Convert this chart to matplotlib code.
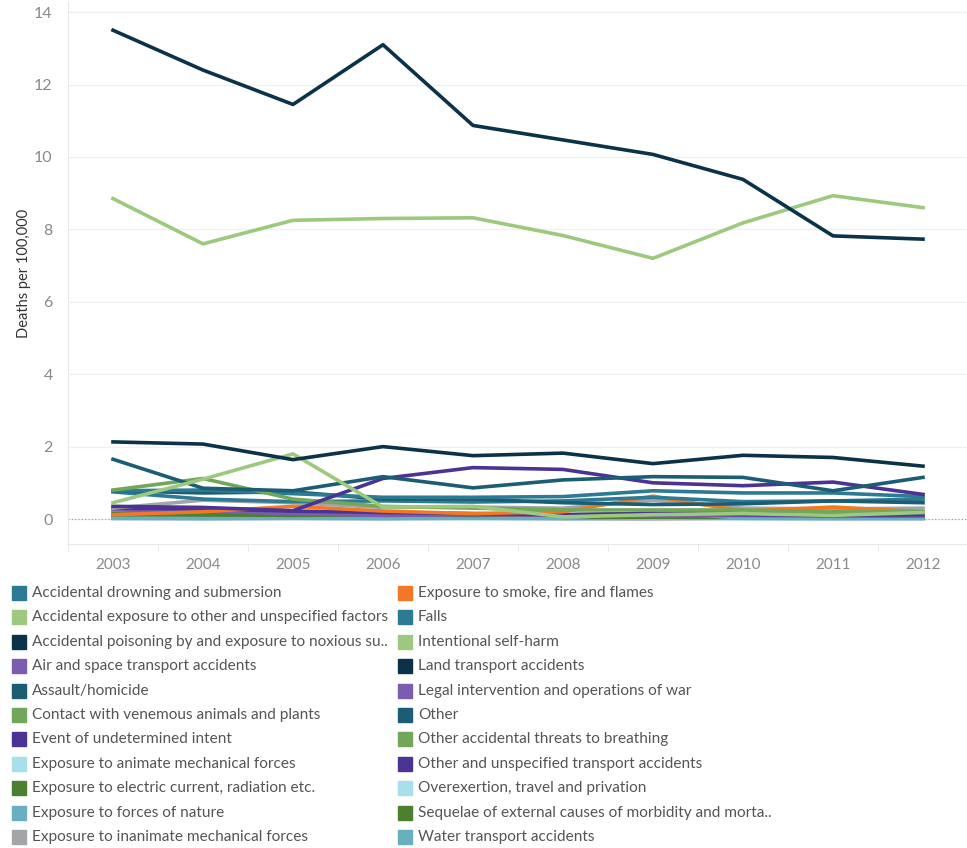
import matplotlib.pyplot as plt
from matplotlib.patches import Rectangle
from matplotlib.ticker import MultipleLocator

plt.rcParams['font.family'] = ['Lato', 'DejaVu Sans']

years = [2003, 2004, 2005, 2006, 2007, 2008, 2009, 2010, 2011, 2012]

categories = [
    "Accidental drowning and submersion",
    "Accidental exposure to other and unspecified factors",
    "Accidental poisoning by and exposure to noxious su..",
    "Air and space transport accidents",
    "Assault/homicide",
    "Contact with venemous animals and plants",
    "Event of undetermined intent",
    "Exposure to animate mechanical forces",
    "Exposure to electric current, radiation etc.",
    "Exposure to forces of nature",
    "Exposure to inanimate mechanical forces",
    "Exposure to smoke, fire and flames",
    "Falls",
    "Intentional self-harm",
    "Land transport accidents",
    "Legal intervention and operations of war",
    "Other",
    "Other accidental threats to breathing",
    "Other and unspecified transport accidents",
    "Overexertion, travel and privation",
    "Sequelae of external causes of morbidity and morta..",
    "Water transport accidents",
]

colors = [
    "#2c7a93", "#9cc97e", "#0b3249", "#7a5db0", "#1b5d74", "#72a75a",
    "#4b3393", "#a7dfea", "#4c7f2e", "#68afc0", "#a3a5a8", "#f47725",
    "#2c7a93", "#9cc97e", "#0b3249", "#7a5db0", "#1b5d74", "#72a75a",
    "#4b3393", "#a7dfea", "#4c7f2e", "#68afc0",
]

drowning = [0.75, 0.55, 0.48, 0.50, 0.47, 0.50, 0.60, 0.48, 0.50, 0.55]
exposure_other = [0.45, 1.10, 1.80, 0.33, 0.35, 0.06, 0.12, 0.15, 0.10, 0.18]
poisoning = [2.13, 2.07, 1.64, 2.00, 1.75, 1.82, 1.53, 1.76, 1.70, 1.46]
air_space = [0.25, 0.22, 0.15, 0.10, 0.12, 0.10, 0.08, 0.10, 0.08, 0.08]
assault = [0.78, 0.72, 0.75, 0.55, 0.55, 0.45, 0.40, 0.42, 0.50, 0.45]
venomous = [0.03, 0.02, 0.03, 0.02, 0.03, 0.02, 0.03, 0.02, 0.02, 0.03]
undetermined = [0.35, 0.32, 0.23, 1.12, 1.42, 1.37, 1.00, 0.92, 1.02, 0.68]
animate = [0.05, 0.04, 0.05, 0.04, 0.04, 0.05, 0.04, 0.03, 0.04, 0.04]
electric = [0.08, 0.06, 0.05, 0.05, 0.06, 0.05, 0.05, 0.04, 0.05, 0.05]
forces_nature = [0.02, 0.02, 0.02, 0.02, 0.03, 0.02, 0.20, 0.02, 0.02, 0.02]
inanimate = [0.30, 0.52, 0.45, 0.32, 0.33, 0.30, 0.52, 0.30, 0.28, 0.30]
smoke = [0.12, 0.20, 0.35, 0.22, 0.15, 0.20, 0.63, 0.22, 0.33, 0.20]
falls = [0.78, 0.80, 0.70, 0.60, 0.60, 0.62, 0.78, 0.72, 0.72, 0.62]
self_harm = [8.85, 7.60, 8.25, 8.30, 8.32, 7.83, 7.20, 8.18, 8.93, 8.60]
land = [13.50, 12.40, 11.45, 13.10, 10.87, 10.47, 10.07, 9.38, 7.82, 7.73]
legal = [0.02, 0.01, 0.02, 0.01, 0.02, 0.01, 0.01, 0.02, 0.01, 0.01]
other = [1.65, 0.85, 0.78, 1.17, 0.86, 1.08, 1.17, 1.15, 0.78, 1.15]
breathing = [0.80, 1.12, 0.55, 0.35, 0.30, 0.25, 0.25, 0.25, 0.20, 0.20]
other_transport = [0.30, 0.28, 0.22, 0.18, 0.15, 0.12, 0.15, 0.12, 0.10, 0.12]
overexertion = [0.01, 0.01, 0.02, 0.01, 0.01, 0.01, 0.02, 0.01, 0.01, 0.01]
sequelae = [0.15, 0.12, 0.10, 0.12, 0.10, 0.12, 0.15, 0.22, 0.12, 0.15]
water = [0.06, 0.05, 0.04, 0.05, 0.04, 0.05, 0.05, 0.04, 0.05, 0.04]

series = [drowning, exposure_other, poisoning, air_space, assault, venomous,
          undetermined, animate, electric, forces_nature, inanimate, smoke,
          falls, self_harm, land, legal, other, breathing, other_transport,
          overexertion, sequelae, water]

W, H = 967, 848
fig = plt.figure(figsize=(W / 100, H / 100), dpi=100)
ax = fig.add_axes([68 / W, 1 - 544 / H, 900 / W, 542 / H])

# draw the small ones first so the big lines stay on top
order = sorted(range(len(series)), key=lambda i: max(series[i]))
for i in order:
    ax.plot(years, series[i], color=colors[i], lw=2.6, solid_joinstyle='round', zorder=3)

ax.axhline(0, color='#999999', lw=0.8, ls=(0, (1, 2)), zorder=1)

ax.set_xlim(2002.5, 2012.5)
ax.set_ylim(-0.69, 14.28)
ax.yaxis.set_major_locator(MultipleLocator(2))
ax.set_xticks(years)
ax.set_xticks([y - 0.5 for y in years] + [2012.5], minor=True)
ax.grid(axis='y', color='#f0f0f0', lw=1)
ax.set_axisbelow(True)

for s in ['top', 'right']:
    ax.spines[s].set_visible(False)
ax.spines['left'].set_color('#e8e8e8')
ax.spines['bottom'].set_color('#e8e8e8')

ax.tick_params(axis='y', length=0, pad=11, labelsize=11.5, labelcolor='#8a8a8a')
ax.tick_params(axis='x', which='major', length=0, pad=10, labelsize=11, labelcolor='#8a8a8a')
ax.tick_params(axis='x', which='minor', length=6, color='#e8e8e8')
ax.set_ylabel('Deaths per 100,000', fontsize=10.5, color='#333333', labelpad=2)

# legend, two columns of eleven
row0, dy = 593, 24.4
for k, (name, c) in enumerate(zip(categories, colors)):
    col, row = divmod(k, 11)
    sx = 12 if col == 0 else 398
    yc = row0 + row * dy
    fig.add_artist(Rectangle((sx / W, 1 - (yc + 7) / H), 14 / W, 14 / H,
                             transform=fig.transFigure, color=c))
    fig.text((sx + 20) / W, 1 - yc / H, name, fontsize=11.1, color='#555555',
             va='center', ha='left')

fig.savefig('out.png', dpi=100)
